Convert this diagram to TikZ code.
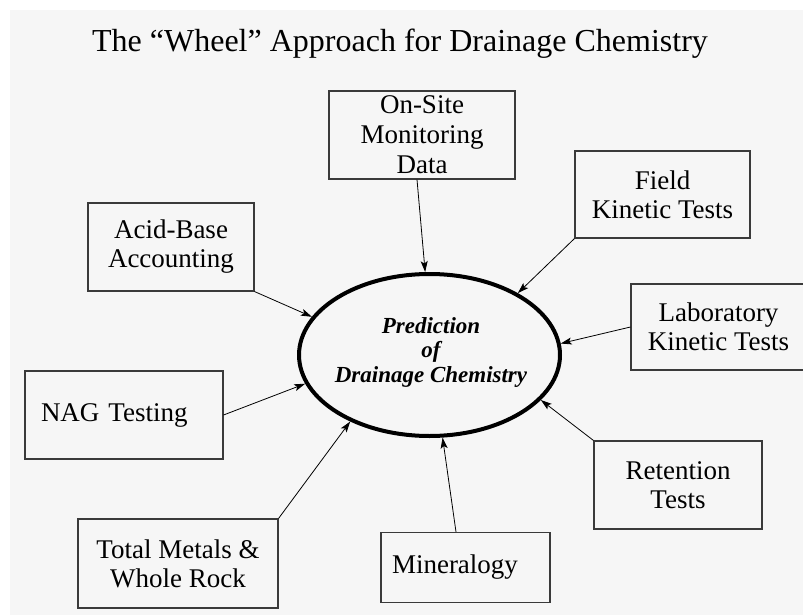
\documentclass[tikz,border=0pt]{standalone}
\usepackage{fontspec}
\setmainfont{Liberation Serif}
\usetikzlibrary{arrows.meta,shapes.geometric}
\definecolor{bggrey}{HTML}{F6F6F6}
\definecolor{boxline}{HTML}{3A3A3A}
\begin{document}
\begin{tikzpicture}[x=1pt,y=-1pt,
  box/.style={draw=boxline, line width=1.1pt, inner sep=0pt, align=center,
    font=\fontsize{27}{29}\selectfont},
  feed/.style={-{Stealth[length=11pt,width=7pt,inset=2.5pt]}, line width=0.8pt, black},
  wheelring/.style={draw=black, ellipse, line width=4pt, inner sep=0pt,
    minimum width=261pt, minimum height=162pt},
  wheeltxt/.style={align=center, font=\fontsize{23}{25}\selectfont\bfseries\itshape}
]
\useasboundingbox (0,0) rectangle (803,615);
\fill[bggrey] (10,10) rectangle (803,615);

\node[font=\fontsize{32}{36}\selectfont, anchor=base] (title) at (400,52)
  {The “Wheel” Approach for Drainage Chemistry};

% centre
\node[wheelring] (wheel) at (429.5,355) {};
\node[wheeltxt] (wheeltext) at (431,352.5) {Prediction\\of\\Drainage Chemistry};

% boxes
\node[box, minimum width=186pt, minimum height=88pt, font=\fontsize{27}{30}\selectfont] (onsite) at (422,135) {On-Site\\Monitoring\\Data};
\node[box, minimum width=175pt, minimum height=87pt] (field) at (662.5,194.5) {Field\\Kinetic Tests};
\node[box, minimum width=166pt, minimum height=88pt] (acid) at (171,247) {Acid-Base\\Accounting};
\node[box, minimum width=175pt, minimum height=86pt] (lab) at (718.5,327) {Laboratory\\Kinetic Tests};
\node[box, minimum width=198pt, minimum height=88pt, text width=166pt, inner xsep=16pt, align=left] (nag) at (124,415) {NAG Testing};
\node[box, minimum width=168pt, minimum height=88pt] (retention) at (678,485) {Retention\\Tests};
\node[box, minimum width=200pt, minimum height=89pt] (total) at (178,563.5) {Total Metals \&\\Whole Rock};
\node[box, minimum width=169pt, minimum height=70pt, text width=147pt, inner xsep=11pt, align=left] (mineral) at (465.5,567.5) {Mineralogy};

% connectors
\draw[feed] ([xshift=-5pt]onsite.south) -- (wheel.93);
\draw[feed] (field.south west) -- (wheel.35);
\draw[feed] (acid.south east) -- (wheel.162);
\draw[feed] (lab.west) -- (wheel.5);
\draw[feed] (nag.east) -- (wheel.193);
\draw[feed] (total.north east) -- (wheel.220);
\draw[feed] ([xshift=-9.5pt]mineral.north) -- (wheel.279);
\draw[feed] (retention.north west) -- (wheel.338);
\end{tikzpicture}
\end{document}
